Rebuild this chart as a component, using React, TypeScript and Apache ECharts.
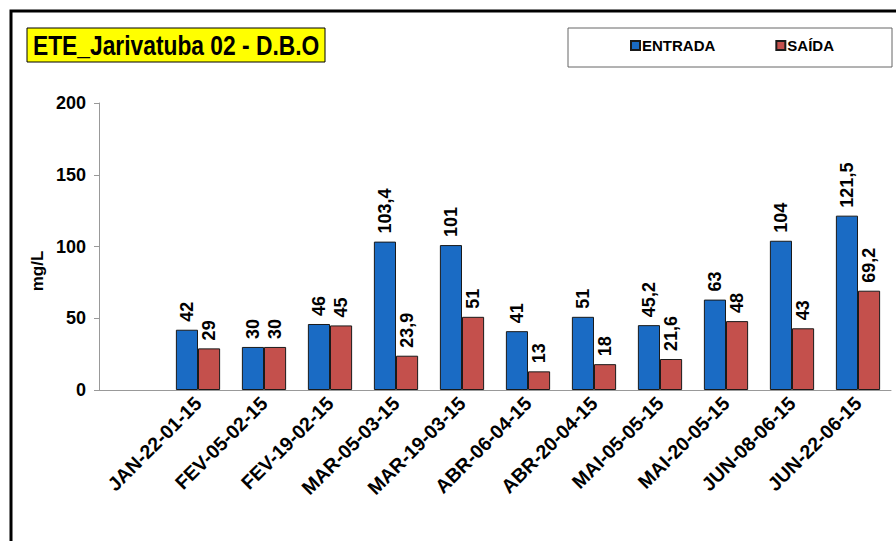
import React, { useEffect, useRef } from "react";
import * as echarts from "echarts";

const categories = [
  "",
  "JAN-22-01-15",
  "FEV-05-02-15",
  "FEV-19-02-15",
  "MAR-05-03-15",
  "MAR-19-03-15",
  "ABR-06-04-15",
  "ABR-20-04-15",
  "MAI-05-05-15",
  "MAI-20-05-15",
  "JUN-08-06-15",
  "JUN-22-06-15",
];
const entrada = [null, 42, 30, 46, 103.4, 101, 41, 51, 45.2, 63, 104, 121.5];
const saida = [null, 29, 30, 45, 23.9, 51, 13, 18, 21.6, 48, 43, 69.2];
const yTicks = { min: 0, max: 200, interval: 50 };
const titleText = "ETE_Jarivatuba 02 - D.B.O";
const yAxisName = "mg/L";

const FONT = "Liberation Sans, Arial, sans-serif";

export default function App() {
  const ref = useRef<HTMLDivElement>(null);
  useEffect(() => {
    if (!ref.current) return;
    const chart = echarts.init(ref.current, undefined, { renderer: "svg" });
    const fmt = (p: any) =>
      p.value == null ? "" : String(p.value).replace(".", ",");
    const labelCfg = {
      show: true,
      position: "top" as const,
      rotate: 90,
      align: "left" as const,
      verticalAlign: "middle" as const,
      distance: 8,
      fontFamily: FONT,
      fontWeight: "bold" as const,
      fontSize: 18,
      color: "#000",
      formatter: fmt,
    };
    chart.setOption({
      animation: false,
      backgroundColor: "#fff",
      textStyle: { fontFamily: FONT },
      legend: {
        left: 630,
        top: 38,
        padding: 0,
        itemWidth: 9,
        itemHeight: 9,
        itemGap: 60,
        icon: "rect",
        textStyle: {
          fontFamily: FONT,
          fontWeight: "bold",
          fontSize: 15,
          color: "#000",
          padding: [0, 0, 0, -3],
        },
        data: ["ENTRADA", "SAÍDA"],
      },
      graphic: [
        {
          type: "rect",
          shape: { x: 11, y: 11, width: 900, height: 560 },
          style: { fill: "none", stroke: "#000", lineWidth: 3 },
          z: 100,
        },
        {
          type: "rect",
          shape: { x: 568, y: 28, width: 324, height: 39 },
          style: { fill: "none", stroke: "#666", lineWidth: 1 },
          z: -1,
        },
        {
          type: "rect",
          shape: { x: 27, y: 28, width: 298, height: 34 },
          style: { fill: "#FFFF00", stroke: "#000", lineWidth: 1 },
          z: 50,
        },
        {
          type: "text",
          x: 33,
          y: 45,
          scaleY: 1.2,
          style: {
            text: titleText,
            fontFamily: FONT,
            fontWeight: "bold",
            fontSize: 22.8,
            fill: "#000",
            verticalAlign: "middle",
            align: "left",
          },
          z: 51,
        },
        {
          type: "text",
          x: 37,
          y: 271,
          rotation: Math.PI / 2,
          style: {
            text: yAxisName,
            fontFamily: FONT,
            fontWeight: "bold",
            fontSize: 17,
            fill: "#000",
            verticalAlign: "middle",
            align: "center",
          },
        },
      ],
      grid: { left: 99, right: 5, top: 103, bottom: 151, containLabel: false },
      xAxis: {
        type: "category",
        data: categories,
        axisLine: { lineStyle: { color: "#999" } },
        axisTick: { lineStyle: { color: "#999" }, length: 5 },
        axisLabel: {
          rotate: 45,
          interval: 0,
          fontFamily: FONT,
          fontWeight: "bold",
          fontSize: 19.5,
          color: "#000",
          margin: 10,
        },
      },
      yAxis: {
        type: "value",
        min: yTicks.min,
        max: yTicks.max,
        interval: yTicks.interval,
        axisLine: { show: true, lineStyle: { color: "#999" } },
        axisTick: { show: true, lineStyle: { color: "#999" }, length: 5 },
        splitLine: { show: false },
        axisLabel: {
          fontFamily: FONT,
          fontWeight: "bold",
          fontSize: 18,
          color: "#000",
          margin: 13,
        },
      },
      series: [
        {
          name: "ENTRADA",
          type: "bar",
          data: entrada,
          barGap: "0%",
          barCategoryGap: "33%",
          itemStyle: { color: "#1A6BC4", borderColor: "#1a1a1a", borderWidth: 1 },
          label: labelCfg,
        },
        {
          name: "SAÍDA",
          type: "bar",
          data: saida,
          itemStyle: { color: "#C4504C", borderColor: "#1a1a1a", borderWidth: 1 },
          label: labelCfg,
        },
      ],
    });
    return () => chart.dispose();
  }, []);
  return (
    <div
      ref={ref}
      style={{ position: "absolute", left: 0, top: 0, width: 896, height: 541 }}
    />
  );
}
